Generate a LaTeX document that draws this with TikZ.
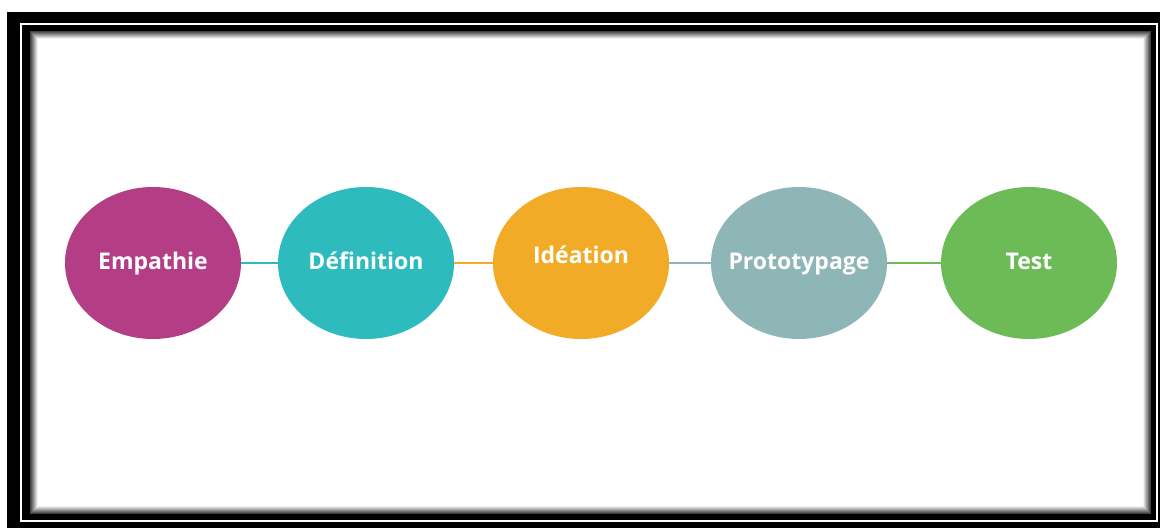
\documentclass[tikz,border=0pt]{standalone}
\usepackage{fontspec}
\newfontfamily\phasefont{Open Sans}
\usetikzlibrary{shapes.geometric}
\definecolor{empcol}{RGB}{180,62,133}
\definecolor{defcol}{RGB}{45,187,189}
\definecolor{ideacol}{RGB}{242,171,39}
\definecolor{protocol}{RGB}{143,182,183}
\definecolor{testcol}{RGB}{108,187,86}
\begin{document}
\begin{tikzpicture}[
    x=0.5pt, y=-0.5pt,
    phase/.style={ellipse, minimum width=88pt, minimum height=76pt,
                  inner xsep=-30pt, inner ysep=0pt,
                  text=white, font=\phasefont\bfseries\fontsize{11.5}{14}\selectfont,
                  text height=0.72em, text depth=0.1em},
    link/.style={line width=1pt},
  ]
    \useasboundingbox (0,0) rectangle (1162,528);
    % frame
    \fill[black] (7,12) rectangle (1160,528);
    \fill[white] (20,23) rectangle (1158,522);
    \fill[black] (22,25) rectangle (1156,520);
    \foreach \i in {0,...,7}
      \fill[black!\fpeval{75-10*\i}] (30+\i,31+\i) rectangle (1151-\i,514-\i);
    \fill[white] (38,39) rectangle (1143,506);

    % phases
    \node[phase, fill=empcol]   (emp)   at (153,263)  {Empathie};
    \node[phase, fill=defcol]   (def)   at (366,263)  {Définition};
    \node[phase, fill=ideacol]  (idea)  at (581,263)  {\raisebox{3pt}{Idéation}};
    \node[phase, fill=protocol] (proto) at (799,263)  {Prototypage};
    \node[phase, fill=testcol]  (test)  at (1029,263) {Test};

    \draw[link, defcol]   (emp)   -- (def);
    \draw[link, ideacol]  (def)   -- (idea);
    \draw[link, protocol] (idea)  -- (proto);
    \draw[link, testcol]  (proto) -- (test);
  \end{tikzpicture}
\end{document}
